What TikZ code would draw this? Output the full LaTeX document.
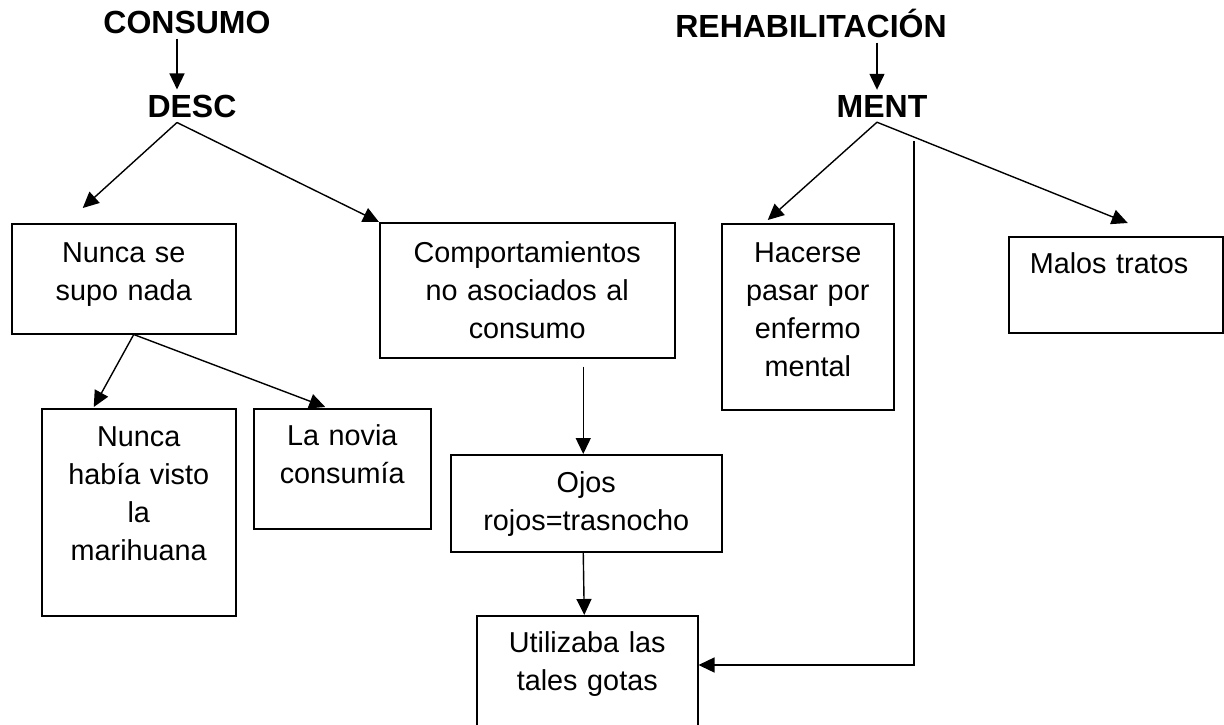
\documentclass[tikz,border=0pt]{standalone}
\usepackage{fontspec}
\setmainfont{Liberation Sans}
\usetikzlibrary{
    arrows.meta,
    positioning,
    calc
}
\newcommand{\cuerpo}{\fontsize{28.8}{38}\selectfont}
\newcommand{\titfont}{\fontsize{32}{38}\selectfont\bfseries}
\tikzset{
    titulo/.style={font=\titfont, inner sep=5pt, anchor=base},
    caja/.style={draw, line width=1.5pt, align=center, anchor=north west, inner sep=0pt, font=\cuerpo},
    flecha/.style={line width=1.4pt, -{Triangle[length=16pt,width=15pt]}}
}
\begin{document}
\begin{tikzpicture}[x=1pt, y=1pt]
                \clip (0,0) rectangle (1224,-724);

                % Headings
                \node[titulo] (consumo) at (187,-33) {CONSUMO};
                \node[titulo] (desc) at (192,-117) {DESC};
                \node[titulo] (rehab) at (811,-37) {REHABILITACIÓN};
                \node[titulo] (ment) at (882,-117) {MENT};

                % Boxes
                \node[caja, text width=224, text height=39, text depth=71] (nunca) at (11,-223) {Nunca se\\supo nada};
                \node[caja, text width=295, text height=40, text depth=95] (comport) at (379,-222) {Comportamientos\\no asociados al\\consumo};
                \node[caja, text width=172, text height=39, text depth=147] (hacerse) at (721,-223) {Hacerse\\pasar por\\enfermo\\mental};
                \node[caja, align=left, inner xsep=21pt, text width=172, text height=37, text depth=59] (malos) at (1008,-236) {Malos tratos};
                \node[caja, text width=194, text height=38, text depth=169] (nunca2) at (41,-408) {Nunca\\había visto\\la\\marihuana};
                \node[caja, text width=177, text height=37, text depth=83] (novia) at (253,-408) {La novia\\consumía};
                \node[caja, text width=271, text height=38, text depth=59] (ojos) at (450,-454) {Ojos\\rojos=trasnocho};
                \node[caja, text width=221, text height=37, text depth=83] (utiliza) at (476,-615) {Utilizaba las\\tales gotas};

                \coordinate (bajada) at (914,-141);
                \coordinate (codo) at (914,-665);

                % Arrows
                \draw[flecha] ([xshift=-10]consumo.south) -- ([xshift=-15]desc.north);
                \draw[flecha] ([xshift=-15]desc.south) -- ([shift={(-41,15)}]nunca.north);
                \draw[flecha] ([xshift=-15]desc.south) -- (comport.north west);
                \draw[flecha] ([xshift=66]rehab.south) -- ([xshift=-5]ment.north);
                \draw[flecha] ([xshift=-5]ment.south) -- ([shift={(-40,3)}]hacerse.north);
                \draw[flecha] ([xshift=-5]ment.south) -- ([shift={(12,13)}]malos.north);
                \draw[flecha] ([xshift=10]nunca.south) -- ([shift={(-45,1)}]nunca2.north);
                \draw[flecha] ([xshift=10]nunca.south) -- ([shift={(-17,1)}]novia.north);
                \draw[flecha, shorten <=8pt] ([xshift=-3]comport.south -| ojos.north) -- ([xshift=-3]ojos.north);
                \draw[flecha] ([xshift=-3]ojos.south) -- ([xshift=-3]utiliza.north);
                \draw[flecha] (bajada) -- (codo) -- (codo -| utiliza.east);
\end{tikzpicture}
\end{document}
